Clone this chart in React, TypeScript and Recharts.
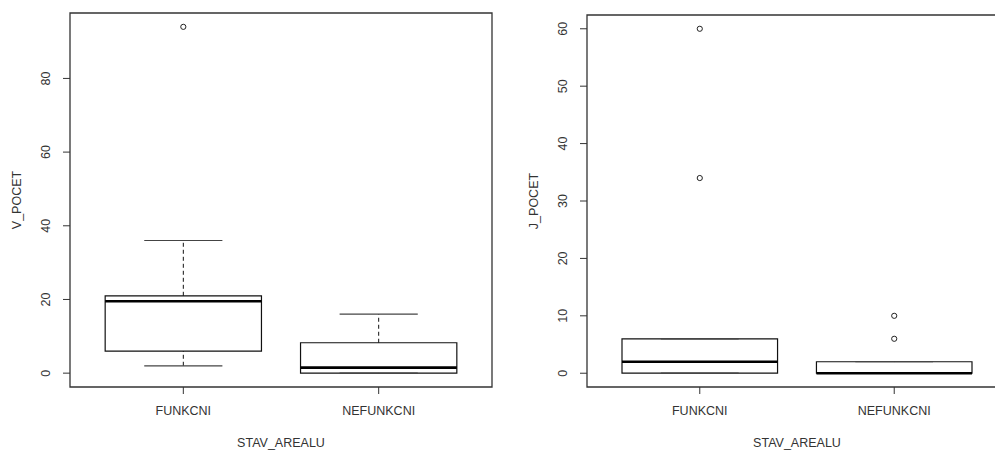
import {
  ComposedChart,
  XAxis,
  YAxis,
  ReferenceArea,
  ReferenceLine,
  Scatter,
  Label,
} from "recharts";

const categories = ["FUNKCNI", "NEFUNKCNI"];

// V_POCET per STAV_AREALU (whisker ends, hinges, median, outliers)
const vLower = [2, 0];
const vQ1 = [6, 0];
const vMedian = [19.5, 1.5];
const vQ3 = [21, 8.25];
const vUpper = [36, 16];
const vOutliers = [[94], []];
const vTicks = [0, 20, 40, 60, 80];

// J_POCET per STAV_AREALU
const jLower = [0, 0];
const jQ1 = [0, 0];
const jMedian = [2, 0];
const jQ3 = [6, 2];
const jUpper = [6, 2];
const jOutliers = [[60, 34], [10, 6]];
const jTicks = [0, 10, 20, 30, 40, 50, 60];

const FONT = "'Liberation Sans', Arial, sans-serif";
const INK = "#333";
const FONT_SIZE = 12.5;

interface Stats {
  lower: number[];
  q1: number[];
  median: number[];
  q3: number[];
  upper: number[];
  outliers: number[][];
}

// same 4% padding R uses for axis ranges
const padded = (lo: number, hi: number): [number, number] => {
  const d = (hi - lo) * 0.04;
  return [lo - d, hi + d];
};

const YTick = ({ x, y, payload }: any) => (
  <text
    x={x}
    y={y}
    transform={`rotate(-90, ${x}, ${y})`}
    textAnchor="middle"
    fontSize={FONT_SIZE}
    fontFamily={FONT}
    fill={INK}
  >
    {payload.value}
  </text>
);

interface PanelProps {
  stats: Stats;
  ticks: number[];
  yName: string;
  left: number;
  width: number;
  top: number;
  marginLeft: number;
  marginRight: number;
}

function BoxPanel({ stats, ticks, yName, left, width, top, marginLeft, marginRight }: PanelProps) {
  const all = [...stats.lower, ...stats.upper, ...stats.outliers.flat()];
  const yDomain = padded(Math.min(...all), Math.max(...all));
  const xDomain = padded(0.5, categories.length + 0.5);
  const points = stats.outliers.flatMap((vals, i) => vals.map((v) => ({ x: i + 1, y: v })));
  const boxHalf = 0.4;
  const capHalf = 0.2;

  return (
    <div style={{ position: "absolute", left, top: 0 }}>
      <ComposedChart
        width={width}
        height={450}
        margin={{ top, right: marginRight, left: marginLeft, bottom: 3 }}
        style={{ overflow: "visible" }}
      >
        <XAxis
          type="number"
          dataKey="x"
          domain={xDomain}
          allowDataOverflow
          ticks={categories.map((_, i) => i + 1)}
          tickFormatter={(v: number) => categories[v - 1]}
          height={60}
          axisLine={false}
          tickSize={7}
          tickMargin={12}
          tickLine={{ stroke: INK }}
          tick={{ fill: INK, fontSize: FONT_SIZE, fontFamily: FONT }}
        >
          <Label
            content={({ viewBox }: any) => (
              <text
                x={viewBox.x + viewBox.width / 2}
                y={viewBox.y + 59.5}
                textAnchor="middle"
                fontSize={FONT_SIZE}
                fontFamily={FONT}
                fill={INK}
              >
                STAV_AREALU
              </text>
            )}
          />
        </XAxis>
        <YAxis
          type="number"
          dataKey="y"
          domain={yDomain}
          allowDataOverflow
          ticks={ticks}
          width={60}
          axisLine={false}
          tickSize={7}
          tickMargin={13}
          tickLine={{ stroke: INK }}
          tick={<YTick />}
        >
          <Label
            content={({ viewBox }: any) => {
              const cx = viewBox.x + viewBox.width - 53.3;
              const cy = viewBox.y + viewBox.height / 2;
              return (
                <text
                  x={cx}
                  y={cy}
                  transform={`rotate(-90, ${cx}, ${cy})`}
                  textAnchor="middle"
                  dominantBaseline="central"
                  fontSize={FONT_SIZE}
                  fontFamily={FONT}
                  fill={INK}
                >
                  {yName}
                </text>
              );
            }}
          />
        </YAxis>

        {/* plot frame */}
        <ReferenceArea
          x1={xDomain[0]}
          x2={xDomain[1]}
          y1={yDomain[0]}
          y2={yDomain[1]}
          fill="none"
          stroke={INK}
          strokeWidth={1.3}
        />

        {categories.map((_, i) => {
          const c = i + 1;
          return [
            <ReferenceLine
              key={`wu-${i}`}
              segment={[{ x: c, y: stats.q3[i] }, { x: c, y: stats.upper[i] }]}
              stroke="#111"
              strokeDasharray="4 3"
            />,
            <ReferenceLine
              key={`wl-${i}`}
              segment={[{ x: c, y: stats.lower[i] }, { x: c, y: stats.q1[i] }]}
              stroke="#111"
              strokeDasharray="4 3"
            />,
            <ReferenceLine
              key={`cu-${i}`}
              segment={[{ x: c - capHalf, y: stats.upper[i] }, { x: c + capHalf, y: stats.upper[i] }]}
              stroke="#444"
              strokeWidth={1.2}
            />,
            <ReferenceLine
              key={`cl-${i}`}
              segment={[{ x: c - capHalf, y: stats.lower[i] }, { x: c + capHalf, y: stats.lower[i] }]}
              stroke="#444"
              strokeWidth={1.2}
            />,
            <ReferenceArea
              key={`box-${i}`}
              x1={c - boxHalf}
              x2={c + boxHalf}
              y1={stats.q1[i]}
              y2={stats.q3[i]}
              fill="none"
              stroke="#111"
              strokeWidth={1.2}
            />,
            <ReferenceLine
              key={`med-${i}`}
              segment={[{ x: c - boxHalf, y: stats.median[i] }, { x: c + boxHalf, y: stats.median[i] }]}
              stroke="#000"
              strokeWidth={2.6}
            />,
          ];
        })}

        <Scatter
          data={points}
          dataKey="y"
          isAnimationActive={false}
          shape={(p: any) => (
            <circle cx={p.cx} cy={p.cy} r={2.6} fill="#fff" stroke="#222" strokeWidth={1} />
          )}
        />
      </ComposedChart>
    </div>
  );
}

export default function App() {
  const vStats: Stats = {
    lower: vLower,
    q1: vQ1,
    median: vMedian,
    q3: vQ3,
    upper: vUpper,
    outliers: vOutliers,
  };
  const jStats: Stats = {
    lower: jLower,
    q1: jQ1,
    median: jMedian,
    q3: jQ3,
    upper: jUpper,
    outliers: jOutliers,
  };

  return (
    <div
      style={{
        position: "fixed",
        left: 0,
        top: 0,
        width: 995,
        height: 450,
        overflow: "hidden",
        background: "#fff",
      }}
    >
      <BoxPanel
        stats={vStats}
        ticks={vTicks}
        yName="V_POCET"
        left={0}
        width={500}
        top={13}
        marginLeft={10}
        marginRight={8}
      />
      <BoxPanel
        stats={jStats}
        ticks={jTicks}
        yName="J_POCET"
        left={500}
        width={520}
        top={15}
        marginLeft={27}
        marginRight={13}
      />
    </div>
  );
}
